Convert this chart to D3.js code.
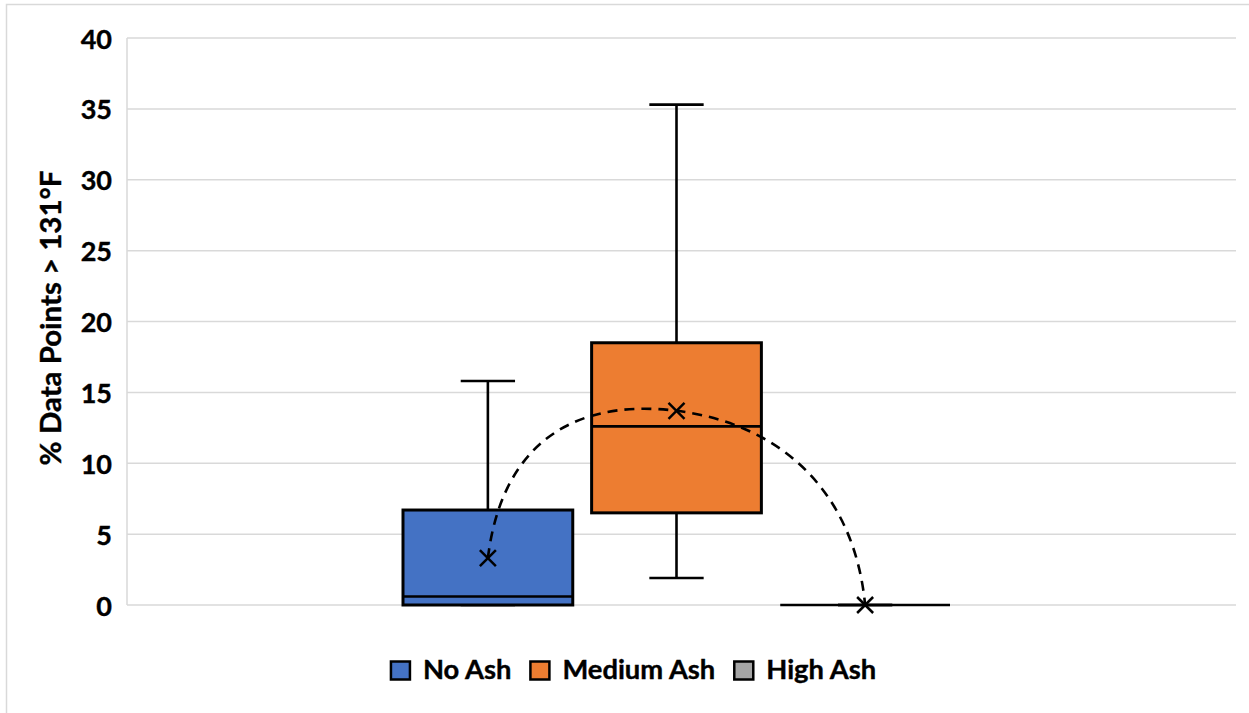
<!DOCTYPE html>
<html>
<head>
<meta charset="utf-8">
<script src="https://cdn.jsdelivr.net/npm/d3@7"></script>
<style>
  html, body { margin: 0; padding: 0; background: #ffffff; }
  svg { display: block; }
  text { font-family: Lato, "Open Sans", sans-serif; font-weight: 700; fill: #000; }
</style>
</head>
<body>
<svg id="chart" width="1249" height="713"></svg>
<script>
// ---- data ----
const series = ["No Ash", "Medium Ash", "High Ash"];
const mins    = [0,   1.9,  0];
const q1s     = [0,   6.5,  0];
const medians = [0.6, 12.6, 0];
const q3s     = [6.7, 18.5, 0];
const maxs    = [15.8, 35.3, 0];
const means   = [3.3, 13.7, 0];
const colors  = ["#4472C4", "#ED7D31", "#A5A5A5"];
const yTicks  = [0, 5, 10, 15, 20, 25, 30, 35, 40];
const yTitle  = "% Data Points > 131°F";

// ---- layout ----
const svg = d3.select("#chart");
const plot = { left: 127, right: 1236, top: 38, bottom: 605 };

// outer chart border
svg.append("rect")
  .attr("x", 6.5).attr("y", 4.5).attr("width", 1400).attr("height", 900)
  .attr("fill", "none").attr("stroke", "#d9d9d9").attr("stroke-width", 1.5);

const y = d3.scaleLinear().domain([0, 40]).range([plot.bottom, plot.top]);
const x = d3.scaleBand().domain(series).range([403, 950]).paddingInner(0.1).paddingOuter(0);

// gridlines
svg.append("g").selectAll("line").data(yTicks).join("line")
  .attr("x1", plot.left).attr("x2", plot.right)
  .attr("y1", d => y(d)).attr("y2", d => y(d))
  .attr("stroke", "#d9d9d9").attr("stroke-width", 1.5);

// left axis line
svg.append("line")
  .attr("x1", plot.left).attr("x2", plot.left)
  .attr("y1", plot.top).attr("y2", plot.bottom)
  .attr("stroke", "#d9d9d9").attr("stroke-width", 1.5);

// y axis labels via d3 axis
const yAxis = d3.axisLeft(y).tickValues(yTicks).tickSize(0).tickPadding(0);
const gy = svg.append("g").attr("transform", "translate(112,0)").call(yAxis);
gy.select(".domain").remove();
gy.selectAll("text")
  .attr("font-family", "Lato, 'Open Sans', sans-serif")
  .attr("font-weight", 700)
  .attr("font-size", 27)
  .attr("fill", "#000")
  .attr("stroke", "#000").attr("stroke-width", 0.4)
  .attr("dy", "0.37em");

// y title
const title = svg.append("text")
  .attr("transform", "translate(61,318) rotate(-90)")
  .attr("text-anchor", "middle")
  .attr("font-size", 26)
  .attr("stroke", "#000").attr("stroke-width", 0.4)
  .text(yTitle);
{
  const w = title.node().getComputedTextLength();
  title.attr("font-size", 26 * 295 / w);
}

// ---- boxes ----
const idx = d3.range(series.length);
const bw = x.bandwidth();
const cx = i => x(series[i]) + bw / 2;
const capW = bw * 0.32;
const lw = 2.6;

const g = svg.append("g");
// whiskers (vertical)
g.selectAll("line.wup").data(idx).join("line").attr("class", "wup")
  .attr("x1", cx).attr("x2", cx)
  .attr("y1", i => y(q3s[i])).attr("y2", i => y(maxs[i]))
  .attr("stroke", "#000").attr("stroke-width", lw);
g.selectAll("line.wdn").data(idx).join("line").attr("class", "wdn")
  .attr("x1", cx).attr("x2", cx)
  .attr("y1", i => y(q1s[i])).attr("y2", i => y(mins[i]))
  .attr("stroke", "#000").attr("stroke-width", lw);
// caps
g.selectAll("line.cmax").data(idx).join("line").attr("class", "cmax")
  .attr("x1", i => cx(i) - capW / 2).attr("x2", i => cx(i) + capW / 2)
  .attr("y1", i => y(maxs[i])).attr("y2", i => y(maxs[i]))
  .attr("stroke", "#000").attr("stroke-width", lw);
g.selectAll("line.cmin").data(idx).join("line").attr("class", "cmin")
  .attr("x1", i => cx(i) - capW / 2).attr("x2", i => cx(i) + capW / 2)
  .attr("y1", i => y(mins[i])).attr("y2", i => y(mins[i]))
  .attr("stroke", "#000").attr("stroke-width", lw);
// boxes
g.selectAll("rect.box").data(idx).join("rect").attr("class", "box")
  .attr("x", i => x(series[i]))
  .attr("width", bw)
  .attr("y", i => y(q3s[i]))
  .attr("height", i => Math.max(0, y(q1s[i]) - y(q3s[i])))
  .attr("fill", (i) => colors[i])
  .attr("stroke", "#000").attr("stroke-width", 3);
// medians
g.selectAll("line.med").data(idx).join("line").attr("class", "med")
  .attr("x1", i => x(series[i])).attr("x2", i => x(series[i]) + bw)
  .attr("y1", i => y(medians[i])).attr("y2", i => y(medians[i]))
  .attr("stroke", "#000").attr("stroke-width", lw);

// ---- mean line (smoothed) ----
const pts = idx.map(i => [cx(i), y(means[i])]);
function smoothPath(p) {
  const n = p.length;
  const tan = p.map((pt, i) => {
    if (i === 0 || i === n - 1) return null;
    const dx = p[i + 1][0] - p[i - 1][0], dy = p[i + 1][1] - p[i - 1][1];
    const L = Math.hypot(dx, dy);
    return [dx / L, dy / L];
  });
  const path = d3.path();
  path.moveTo(p[0][0], p[0][1]);
  function mirror(P, Q, C) {
    const ux = (Q[0] - P[0]), uy = (Q[1] - P[1]);
    const L = Math.hypot(ux, uy);
    const u = [ux / L, uy / L], v = [-u[1], u[0]];
    const r = [C[0] - Q[0], C[1] - Q[1]];
    const a = r[0] * u[0] + r[1] * u[1], b = r[0] * v[0] + r[1] * v[1];
    return [P[0] - a * u[0] + b * v[0], P[1] - a * u[1] + b * v[1]];
  }
  for (let i = 0; i < n - 1; i++) {
    const P = p[i], Q = p[i + 1];
    const h = 0.58 * Math.abs(Q[0] - P[0]);
    let c1 = tan[i] ? [P[0] + tan[i][0] * h, P[1] + tan[i][1] * h] : null;
    let c2 = tan[i + 1] ? [Q[0] - tan[i + 1][0] * h, Q[1] - tan[i + 1][1] * h] : null;
    if (!c1 && c2) c1 = mirror(P, Q, c2);
    if (!c2 && c1) c2 = mirror(Q, P, c1);
    if (!c1 && !c2) { c1 = P; c2 = Q; }
    path.bezierCurveTo(c1[0], c1[1], c2[0], c2[1], Q[0], Q[1]);
  }
  return path.toString();
}
svg.append("path")
  .attr("d", smoothPath(pts))
  .attr("fill", "none").attr("stroke", "#000")
  .attr("stroke-width", 2.6).attr("stroke-dasharray", "10,7");

// mean markers (x)
const m = 8;
const mk = svg.append("g").selectAll("g").data(idx).join("g")
  .attr("transform", i => `translate(${cx(i)},${y(means[i])})`);
mk.append("line").attr("x1", -m).attr("y1", -m).attr("x2", m).attr("y2", m)
  .attr("stroke", "#000").attr("stroke-width", 2.5);
mk.append("line").attr("x1", -m).attr("y1", m).attr("x2", m).attr("y2", -m)
  .attr("stroke", "#000").attr("stroke-width", 2.5);

// ---- legend ----
const leg = svg.append("g");
const legY = 679;
const items = leg.selectAll("g").data(idx).join("g");
items.append("rect")
  .attr("width", 19).attr("height", 18).attr("y", legY - 17.5)
  .attr("fill", i => colors[i]).attr("stroke", "#000").attr("stroke-width", 2.5);
const lt = items.append("text")
  .attr("x", 32).attr("y", legY)
  .attr("font-size", 25)
  .attr("stroke", "#000").attr("stroke-width", 0.4)
  .text(i => series[i]);
{
  const wMed = lt.filter(i => i === 1).node().getComputedTextLength();
  const fs = 25 * 153 / wMed;
  lt.attr("font-size", fs);
  const widths = lt.nodes().map(n => n.getComputedTextLength());
  const gap = 19;
  const total = d3.sum(widths) + widths.length * 32 + gap * (widths.length - 1);
  let xx = 633.5 - total / 2;
  items.attr("transform", (i) => {
    const t = `translate(${xx},0)`;
    xx += 32 + widths[i] + gap;
    return t;
  });
}
</script>
</body>
</html>
